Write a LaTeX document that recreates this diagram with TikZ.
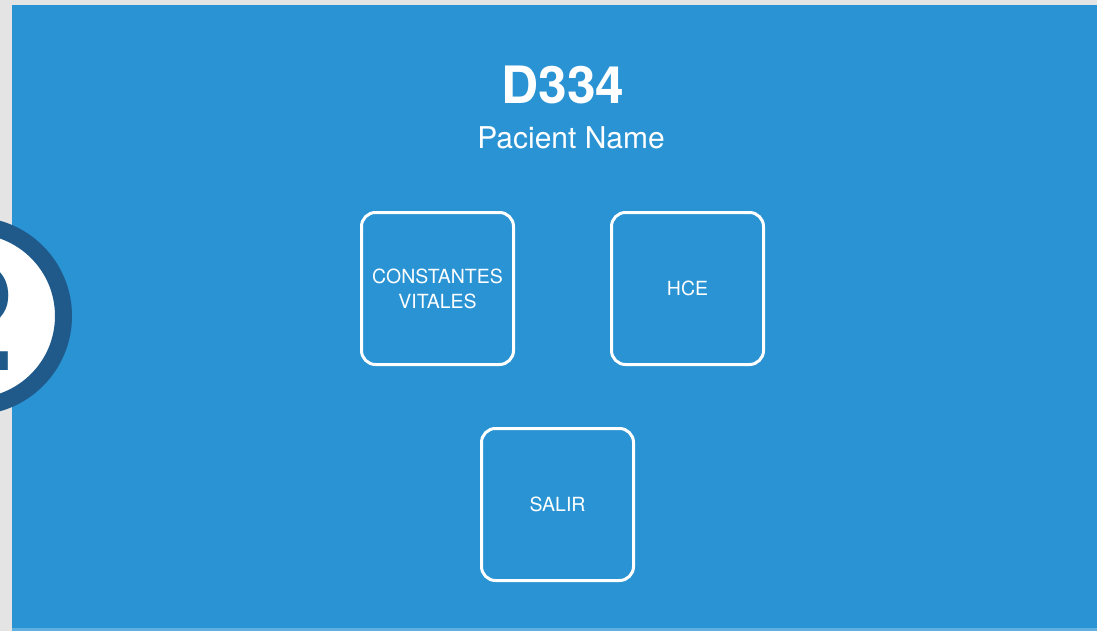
\documentclass[tikz,border=0pt]{standalone}
\usepackage{fontspec}
\setmainfont{TeX Gyre Heros}
\usetikzlibrary{positioning}

\definecolor{screenblue}{HTML}{2A93D3}
\definecolor{edgeblue}{HTML}{5FB0E0}
\definecolor{ringblue}{HTML}{1F5A8A}
\definecolor{pagegrey}{HTML}{E4E4E4}

\begin{document}
\begin{tikzpicture}[x=1pt,y=-1pt]
  % Settings
  \tikzset{
    menubtn/.style={draw=white, line width=3pt, rounded corners=14pt, minimum size=152pt, align=center, text=white, font=\fontsize{19.5}{25}\selectfont},
    title/.style={text=white, font=\bfseries\fontsize{51.5}{60}\selectfont, inner sep=0pt},
    subtitle/.style={text=white, font=\fontsize{30}{36}\selectfont, inner sep=0pt},
    stepmark/.style={circle, draw=ringblue, fill=white, line width=17pt, minimum size=181pt, inner sep=0pt, text=ringblue, font=\bfseries\fontsize{150}{155}\selectfont},
  }
  \clip (0,0) rectangle (1097,631);
  % Page and screen
  \fill[pagegrey] (0,0) rectangle (1097,631);
  \fill[edgeblue] (12,600) rectangle (1097,631);
  \fill[screenblue] (12,5) rectangle (1097,628);
  % Step marker
  \node[stepmark] (step2) at (-27,316) {2};
  % Header
  \node[title] (room) at (563,85) {D334};
  \node[subtitle] (patient) at (571,138) {Pacient Name};
  % Buttons
  \node[menubtn] (vitals) at (437.5,288.5) {CONSTANTES\\VITALES};
  \node[menubtn] (hce) at (687.5,288.5) {HCE};
  \node[menubtn] (exit) at (557.5,504.5) {SALIR};
\end{tikzpicture}
\end{document}
